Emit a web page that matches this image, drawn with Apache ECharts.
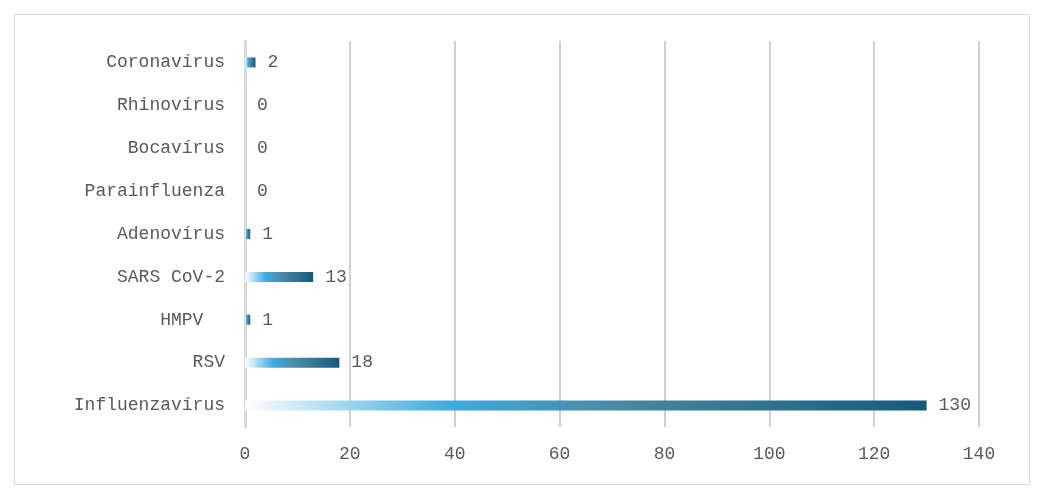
<!DOCTYPE html>
<html>
<head>
<meta charset="utf-8">
<script src="https://cdn.jsdelivr.net/npm/echarts@6/dist/echarts.min.js"></script>
<style>
html,body{margin:0;padding:0;background:#fff;}
#frame{position:absolute;left:14px;top:14px;width:1014px;height:469px;border:1px solid #d9d9d9;}
#chart{position:absolute;left:0;top:0;width:1043px;height:499px;}
</style>
</head>
<body>
<div id="frame"></div>
<div id="chart"></div>
<script>
// categories bottom-to-top
var categories = ['Influenzavírus','RSV','HMPV  ','SARS CoV-2','Adenovírus','Parainfluenza','Bocavírus','Rhinovírus','Coronavírus'];
var values = [130, 18, 1, 13, 1, 0, 0, 0, 2];
var xTicks = [0, 20, 40, 60, 80, 100, 120, 140];

var myChart = echarts.init(document.getElementById('chart'));
var font = '"Liberation Mono", "DejaVu Sans Mono", monospace';
var option = {
    animation: false,
    grid: {left: 245, right: 64, top: 41, bottom: 72},
    xAxis: {
        type: 'value',
        min: xTicks[0],
        max: xTicks[xTicks.length - 1],
        interval: 20,
        axisLine: {show: false},
        axisTick: {show: false},
        axisLabel: {color: '#595959', fontSize: 18, fontFamily: font, margin: 18},
        splitLine: {show: true, lineStyle: {color: '#bfbfbf', width: 1.5}}
    },
    yAxis: {
        type: 'category',
        data: categories,
        axisLine: {show: true, lineStyle: {color: '#d9d9d9', width: 3}},
        axisTick: {show: false},
        axisLabel: {color: '#595959', fontSize: 18, fontFamily: font, margin: 20}
    },
    series: [{
        type: 'bar',
        data: values,
        barWidth: 10,
        itemStyle: {
            color: new echarts.graphic.LinearGradient(0, 0, 1, 0, [
                {offset: 0, color: '#ffffff'},
                {offset: 0.3, color: '#3eaadf'},
                {offset: 0.55, color: '#4a88a4'},
                {offset: 1, color: '#165a7a'}
            ])
        },
        label: {
            show: true,
            position: 'right',
            distance: 12,
            color: '#595959',
            fontSize: 18,
            fontFamily: font
        }
    }]
};
myChart.setOption(option);
</script>
</body>
</html>
